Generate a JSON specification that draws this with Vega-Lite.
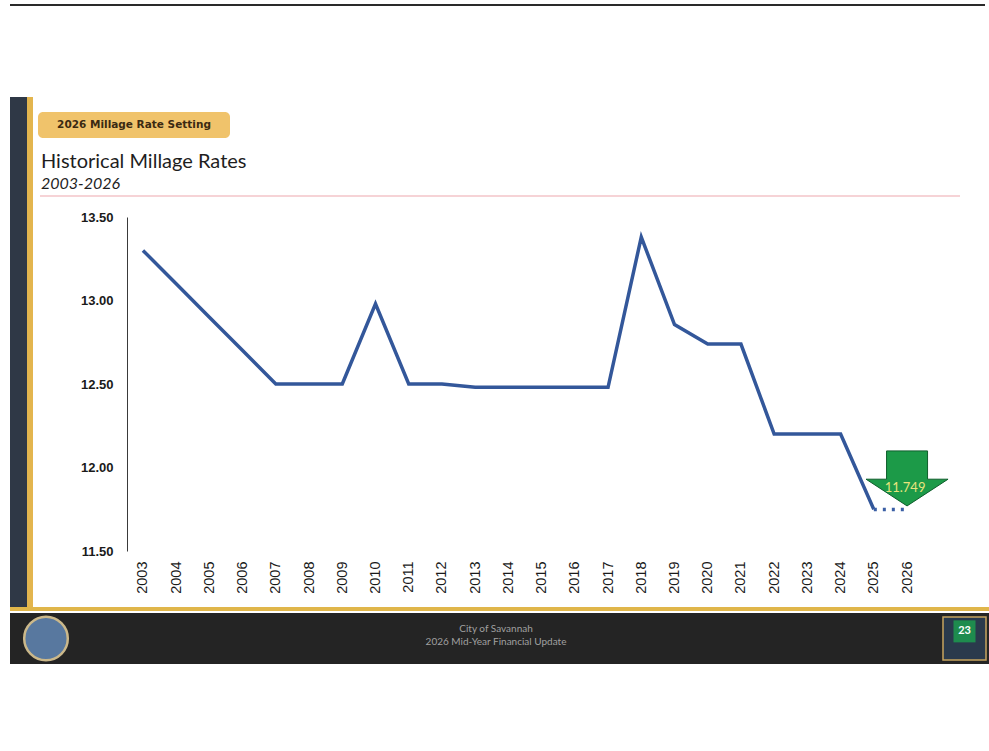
{
  "$schema": "https://vega.github.io/schema/vega-lite/v6.json",
  "background": "white",
  "padding": {"left": 10, "top": 4, "right": 0, "bottom": 0},
  "config": {"view": {"stroke": null}, "font": "Lato"},
  "spacing": 0,
  "align": "none",
  "bounds": "full",
  "vconcat": [
    {"data": {"values": []}, "mark": "point", "width": 975, "height": 2, "view": {"fill": "#2a2a2a", "stroke": null}},
    {"data": {"values": []}, "mark": "point", "width": 10, "height": 91},
    {
      "spacing": 0,
      "align": "none",
      "bounds": "full",
      "hconcat": [
        {"data": {"values": []}, "mark": "point", "width": 17, "height": 510, "view": {"fill": "#2f3846", "stroke": null}},
        {"data": {"values": []}, "mark": "point", "width": 6, "height": 510, "view": {"fill": "#e3b54e", "stroke": null}},
        {
          "spacing": 0,
          "align": "none",
          "bounds": "full",
          "vconcat": [
            {"data": {"values": []}, "mark": "point", "width": 10, "height": 15},
            {
              "spacing": 0,
              "align": "none",
              "bounds": "full",
              "hconcat": [
                {"data": {"values": []}, "mark": "point", "width": 5, "height": 26},
                {
                  "data": {"values": [{"label": "2026 Millage Rate Setting"}]},
                  "width": 192,
                  "height": 26,
                  "view": {"fill": "#f0c36b", "cornerRadius": 5, "stroke": null},
                  "mark": {"type": "text", "font": "DejaVu Sans", "fontWeight": "bold", "fontSize": 10.5, "fill": "#3b2a12", "align": "center", "baseline": "middle"},
                  "encoding": {
                    "x": {"datum": 0.5, "type": "quantitative", "scale": {"domain": [0, 1]}, "axis": null},
                    "y": {"datum": 0.5, "type": "quantitative", "scale": {"domain": [0, 1]}, "axis": null},
                    "text": {"field": "label"}
                  }
                }
              ]
            },
            {"data": {"values": []}, "mark": "point", "width": 10, "height": 14},
            {
              "spacing": 0,
              "align": "none",
              "bounds": "full",
              "hconcat": [
                {"data": {"values": []}, "mark": "point", "width": 7, "height": 2},
                {
                  "data": {"values": []},
                  "mark": "point",
                  "width": 920,
                  "height": 2,
                  "view": {"fill": "#f6d3d6", "stroke": null},
                  "title": {
                    "text": "Historical Millage Rates",
                    "subtitle": "2003-2026",
                    "anchor": "start",
                    "frame": "group",
                    "font": "Lato",
                    "fontSize": 20,
                    "fontWeight": "normal",
                    "color": "#1e1e1e",
                    "subtitleFont": "Lato",
                    "subtitleFontSize": 16,
                    "subtitleFontStyle": "italic",
                    "subtitleColor": "#1e1e1e",
                    "subtitlePadding": 4,
                    "offset": 3,
                    "dx": 1
                  }
                }
              ]
            },
            {"data": {"values": []}, "mark": "point", "width": 10, "height": 14},
            {
              "spacing": 0,
              "align": "none",
              "bounds": "full",
              "hconcat": [
                {"data": {"values": []}, "mark": "point", "width": 1, "height": 1},
                {
                  "width": 796,
                  "height": 334,
                  "data": {
                    "values": [
                      {"year": 2003, "rate": 13.30},
                      {"year": 2004, "rate": 13.10},
                      {"year": 2005, "rate": 12.90},
                      {"year": 2006, "rate": 12.70},
                      {"year": 2007, "rate": 12.50},
                      {"year": 2008, "rate": 12.50},
                      {"year": 2009, "rate": 12.50},
                      {"year": 2010, "rate": 12.98},
                      {"year": 2011, "rate": 12.50},
                      {"year": 2012, "rate": 12.50},
                      {"year": 2013, "rate": 12.48},
                      {"year": 2014, "rate": 12.48},
                      {"year": 2015, "rate": 12.48},
                      {"year": 2016, "rate": 12.48},
                      {"year": 2017, "rate": 12.48},
                      {"year": 2018, "rate": 13.38},
                      {"year": 2019, "rate": 12.856},
                      {"year": 2020, "rate": 12.739},
                      {"year": 2021, "rate": 12.739},
                      {"year": 2022, "rate": 12.20},
                      {"year": 2023, "rate": 12.20},
                      {"year": 2024, "rate": 12.20},
                      {"year": 2025, "rate": 11.749},
                      {"year": 2026, "rate": 11.749}
                    ]
                  },
                  "encoding": {
                    "x": {
                      "field": "year",
                      "type": "ordinal",
                      "scale": {"type": "point", "padding": 0.48},
                      "axis": {"title": null, "labelAngle": -90, "domain": false, "ticks": false, "grid": false, "labelPadding": 10, "labelFontSize": 14.5, "labelFont": "Liberation Sans", "labelColor": "#1a1a1a"}
                    },
                    "y": {
                      "field": "rate",
                      "type": "quantitative",
                      "scale": {"domain": [11.5, 13.5], "nice": false, "zero": false},
                      "axis": {"title": " ", "titleAngle": 0, "titleX": -93, "titleY": 0, "titleAlign": "left", "titleBaseline": "top", "values": [11.5, 12, 12.5, 13, 13.5], "format": ".2f", "ticks": false, "grid": false, "domainColor": "#3a3a3a", "domainWidth": 1, "labelPadding": 14, "labelFont": "Liberation Sans", "labelFontWeight": "bold", "labelFontSize": 13, "labelColor": "#1a1a1a"}
                    }
                  },
                  "layer": [
                    {
                      "transform": [{"filter": "datum.year == 2026"}],
                      "mark": {"type": "point", "shape": "M -0.5 -1.427 L 0.5 -1.427 L 0.5 -0.737 L 1 -0.737 L 0 -0.085 L -1 -0.737 L -0.5 -0.737 Z", "size": 6724, "filled": true, "fill": "#1c9a48", "stroke": "#0f5e2c", "strokeWidth": 1, "opacity": 1}
                    },
                    {
                      "transform": [{"filter": "datum.year == 2026"}],
                      "mark": {"type": "text", "dy": -21, "dx": -2, "fontSize": 13, "font": "Lato", "fill": "#e8e47e", "align": "center", "baseline": "middle"},
                      "encoding": {"text": {"field": "rate", "type": "quantitative", "format": ".3f"}}
                    },
                    {
                      "transform": [{"filter": "datum.year != 2026"}],
                      "mark": {"type": "line", "color": "#33579a", "strokeWidth": 3.5}
                    },
                    {
                      "transform": [{"filter": "datum.year >= 2025"}],
                      "mark": {"type": "line", "color": "#3b5fa5", "strokeWidth": 3.5, "strokeDash": [3, 6]}
                    }
                  ]
                }
              ]
            }
          ]
        }
      ]
    },
    {"data": {"values": []}, "mark": "point", "width": 979, "height": 4, "view": {"fill": "#e0b64a", "stroke": null}},
    {
      "spacing": 0,
      "align": "none",
      "bounds": "full",
      "hconcat": [
        {
          "data": {"values": [{"k": "seal"}]},
          "width": 72,
          "height": 51,
          "view": {"fill": "#242424", "stroke": null},
          "mark": {"type": "point", "shape": "circle", "size": 1900, "filled": true, "fill": "#58789f", "stroke": "#cbb88a", "strokeWidth": 2.5, "opacity": 1},
          "encoding": {
            "x": {"datum": 0.5, "type": "quantitative", "scale": {"domain": [0, 1]}, "axis": null},
            "y": {"datum": 0.5, "type": "quantitative", "scale": {"domain": [0, 1]}, "axis": null}
          }
        },
        {
          "data": {"values": [{"t": "City of Savannah|2026 Mid-Year Financial Update"}]},
          "width": 858,
          "height": 51,
          "view": {"fill": "#242424", "stroke": null},
          "mark": {"type": "text", "lineBreak": "|", "lineHeight": 13, "dx": -15, "align": "center", "baseline": "middle", "font": "Lato", "fontSize": 10, "fill": "#a0a0a0"},
          "encoding": {
            "x": {"datum": 0.5, "type": "quantitative", "scale": {"domain": [0, 1]}, "axis": null},
            "y": {"datum": 0.68, "type": "quantitative", "scale": {"domain": [0, 1]}, "axis": null},
            "text": {"field": "t"}
          }
        },
        {
          "data": {"values": [{"n": "23"}]},
          "width": 49,
          "height": 51,
          "view": {"fill": "#242424", "stroke": null},
          "encoding": {
            "x": {"datum": 0.5, "type": "quantitative", "scale": {"domain": [0, 1]}, "axis": null}
          },
          "layer": [
            {
              "mark": {"type": "point", "shape": "square", "size": 1849, "filled": true, "fill": "#2a3a4c", "stroke": "#c6a45e", "strokeWidth": 1.5, "opacity": 1},
              "encoding": {"y": {"datum": 0.5, "type": "quantitative", "scale": {"domain": [0, 1]}, "axis": null}}
            },
            {
              "mark": {"type": "point", "shape": "square", "size": 484, "filled": true, "fill": "#1e8c4e", "opacity": 1},
              "encoding": {"y": {"datum": 0.64, "type": "quantitative", "scale": {"domain": [0, 1]}, "axis": null}}
            },
            {
              "mark": {"type": "text", "fontSize": 11, "fontWeight": "bold", "font": "Lato", "fill": "white", "align": "center", "baseline": "middle"},
              "encoding": {
                "y": {"datum": 0.64, "type": "quantitative", "scale": {"domain": [0, 1]}, "axis": null},
                "text": {"field": "n"}
              }
            }
          ]
        }
      ]
    }
  ]
}
